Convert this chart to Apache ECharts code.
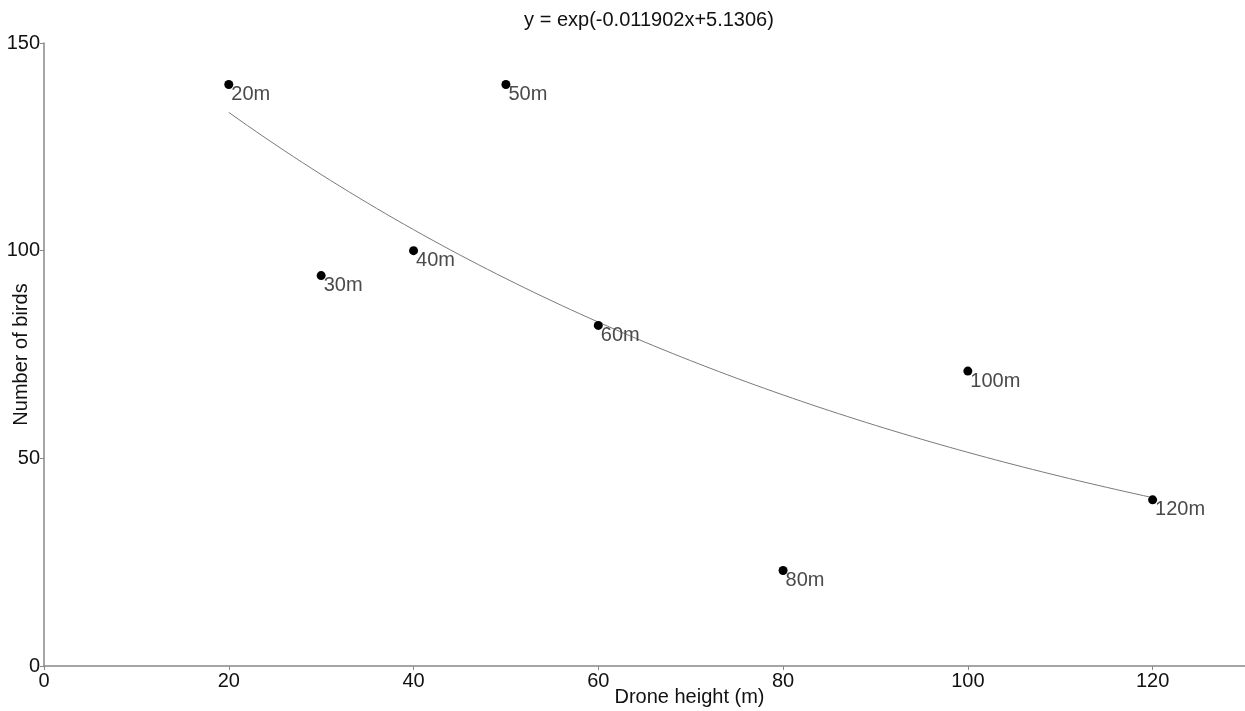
<!DOCTYPE html>
<html>
<head>
<meta charset="utf-8">
<title>Drone height vs number of birds</title>
<script src="https://cdn.jsdelivr.net/npm/echarts@6/dist/echarts.min.js"></script>
<style>
  html, body { margin: 0; padding: 0; background: #fff; }
  #chart { width: 1245px; height: 711px; }
</style>
</head>
<body>
<div id="chart"></div>
<script>
// Observations: drone height (m) and number of birds counted
const heights = [20, 30, 40, 50, 60, 80, 100, 120];
const birds = [140, 94, 100, 140, 82, 23, 71, 40];
const pointLabels = ['20m', '30m', '40m', '50m', '60m', '80m', '100m', '120m'];

// Exponential fit shown in the title: y = exp(slope * x + intercept)
const fitSlope = -0.011902;
const fitIntercept = 5.1306;
const fitRange = [20, 120];

const xTicks = [0, 20, 40, 60, 80, 100, 120];
const yTicks = [0, 50, 100, 150];

const fitCurve = [];
for (let x = fitRange[0]; x <= fitRange[1]; x += 1) {
  fitCurve.push([x, Math.exp(fitSlope * x + fitIntercept)]);
}

const FONT = '"Liberation Sans", Arial, sans-serif';
const chart = echarts.init(document.getElementById('chart'), null, { renderer: 'canvas' });

chart.setOption({
  animation: false,
  backgroundColor: '#ffffff',
  title: {
    text: 'y = exp(' + fitSlope + 'x+' + fitIntercept + ')',
    left: 644,
    textAlign: 'center',
    top: 5,
    textStyle: { fontFamily: FONT, fontSize: 20, fontWeight: 'normal', color: '#111' }
  },
  grid: { left: 44, right: 0, top: 43, bottom: 45, containLabel: false, outerBoundsMode: 'none' },
  xAxis: {
    type: 'value',
    min: 0,
    max: 130,
    interval: 20,
    name: 'Drone height (m)',
    nameLocation: 'middle',
    nameGap: 21,
    nameMoveOverlap: false,
    nameTextStyle: { fontFamily: FONT, fontSize: 20, color: '#111', padding: [0, 0, 0, 90] },
    axisLine: { show: true, onZero: false, lineStyle: { color: '#888', width: 1.5 } },
    axisTick: { show: true, length: 4, lineStyle: { color: '#888' }, customValues: xTicks },
    axisLabel: {
      fontFamily: FONT, fontSize: 20, color: '#111', margin: 5,
      customValues: xTicks
    },
    splitLine: { show: false }
  },
  yAxis: {
    type: 'value',
    min: 0,
    max: 150,
    interval: 50,
    name: 'Number of birds',
    nameLocation: 'middle',
    nameGap: 13,
    nameMoveOverlap: false,
    nameTextStyle: { fontFamily: FONT, fontSize: 20, color: '#111' },
    axisLine: { show: true, onZero: false, lineStyle: { color: '#888', width: 1.5 } },
    axisTick: { show: true, length: 4, lineStyle: { color: '#888' }, customValues: yTicks },
    axisLabel: {
      fontFamily: FONT, fontSize: 20, color: '#111', margin: 4,
      customValues: yTicks
    },
    splitLine: { show: false }
  },
  series: [
    {
      name: 'Fit',
      type: 'line',
      data: fitCurve,
      showSymbol: false,
      smooth: false,
      lineStyle: { color: '#7a7a7a', width: 1 },
      z: 1
    },
    {
      name: 'Birds',
      type: 'scatter',
      data: heights.map((h, i) => [h, birds[i], pointLabels[i]]),
      symbolSize: 9,
      itemStyle: { color: '#000', opacity: 1 },
      label: {
        show: true,
        position: 'right',
        distance: 0,
        offset: [-2, 10],
        formatter: p => p.data[2],
        fontFamily: FONT,
        fontSize: 20,
        color: '#4a4a4a'
      },
      z: 2
    }
  ]
});
</script>
</body>
</html>
